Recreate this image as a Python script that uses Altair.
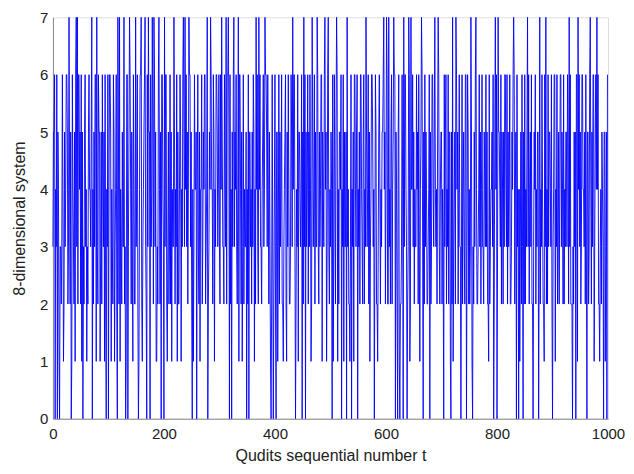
import altair as alt
import pandas as pd

# Base levels (1..6) read/estimated along the sequence, 100 per row
rows = [
    "3556143625 4163323641 2534665236 4251164325 1643526645 2615332563 4132564435 6142536615 3265513526 4351624436",
    "2466514326 5134624452 6143253342 3516643526 4253164225 3462514665 2134563325 6315526341 5246351132 6342516643",
    "4536621352 3625143345 2436152246 5143665324 6352416635 2541364453 4632514462 3546623465 2354164426 5143665346",
    "3264153326 4352663546 2415363354 6324516642 5136243352 4263553425 3651424463 2546332456 3426653642 5314263324",
    "6235513625 3462213456 2153642236 5324663524 3615543462 5243665346 2536412253 4625334632 5346615436 2451363324",
    "3546613642 5361425546 2436153352 6342213624 3516643562 4352664325 6243353462 5134665342 3652213564 2435563452",
    "4362213425 6245566354 2356142236 4523664352 3461254463 5243364526 3145563452 6354223462 5236643564 3425563245",
    "5243663562 4362551352 6134526645 2463313624 5326643652 4235514325 3654223463 5246332543 6352216234 4536625346",
    "2365543625 4253664362 5346223546 3624556342 4135263352 6243553624 5362233546 2435563524 3642216352 4263554362",
    "5346614362 3524663542 6243553652 4362224325 3546613463 5236644352 6345523624 2536613564 3462213425 4365513546",
]

# Positions of the spikes to level 7 and dips to level 0
peak_t = [29, 42, 44, 70, 79, 117, 120, 128, 138, 149, 159, 166, 172, 179, 182, 191, 201, 218, 235, 238,
          245, 278, 284, 304, 312, 316, 326, 334, 366, 371, 382, 397, 432, 437, 452, 467, 476, 490,
          496, 511, 530, 564, 596, 601, 605, 614, 632, 641, 645, 664, 688, 694, 720, 726,
          753, 762, 797, 802, 830, 855, 877, 888, 930, 946, 968, 980]
trough_t = [4, 8, 12, 33, 54, 71, 96, 100, 116, 131, 135, 154, 169, 175, 195, 200,
            251, 259, 279, 318, 322, 349, 353, 393, 397, 402, 437, 449, 455,
            503, 520, 529, 538, 549, 579, 617, 621, 625, 631, 638, 667, 679, 704, 717, 735,
            745, 756, 794, 800, 835, 839, 847, 865, 875, 900, 936, 942, 962, 992, 998]

values = [int(c) for c in "".join(rows) if c.isdigit()]
for i in peak_t:
    if i < len(values):
        values[i] = 7
for i in trough_t:
    if i < len(values):
        values[i] = 0

df = pd.DataFrame({"t": list(range(len(values))), "v": values})

font = "Liberation Sans"

chart = alt.Chart(df).mark_line(color="#0000ff", strokeWidth=0.9).encode(
    x=alt.X("t:Q",
            scale=alt.Scale(domain=[0, 1000], nice=False, zero=False),
            axis=alt.Axis(values=[0, 200, 400, 600, 800, 1000], format="d",
                          title="Qudits sequential number t",
                          grid=False, ticks=False, labelPadding=8, labelFontSize=15,
                          titleFontSize=16, titleFontWeight="normal", titlePadding=6,
                          labelColor="#222", titleColor="#222", domainColor="#888",
                          labelFont=font, titleFont=font, labelFlush=False)),
    y=alt.Y("v:Q",
            scale=alt.Scale(domain=[0, 7], nice=False),
            axis=alt.Axis(values=[0, 1, 2, 3, 4, 5, 6, 7], format="d",
                          title="8-dimensional system",
                          grid=False, ticks=False, labelPadding=5, labelFontSize=15,
                          titleFontSize=16, titleFontWeight="normal", titlePadding=12,
                          labelColor="#222", titleColor="#222", domainColor="#888",
                          labelFont=font, titleFont=font, labelFlush=False)),
).properties(
    width=556, height=402,
    autosize=alt.AutoSizeParams(type="none"),
    padding={"left": 45, "top": 9, "right": 18, "bottom": 46},
).configure_view(stroke="#888", strokeWidth=1).configure(background="white")

chart.save("out.html", embed_options={"renderer": "svg", "actions": False})
